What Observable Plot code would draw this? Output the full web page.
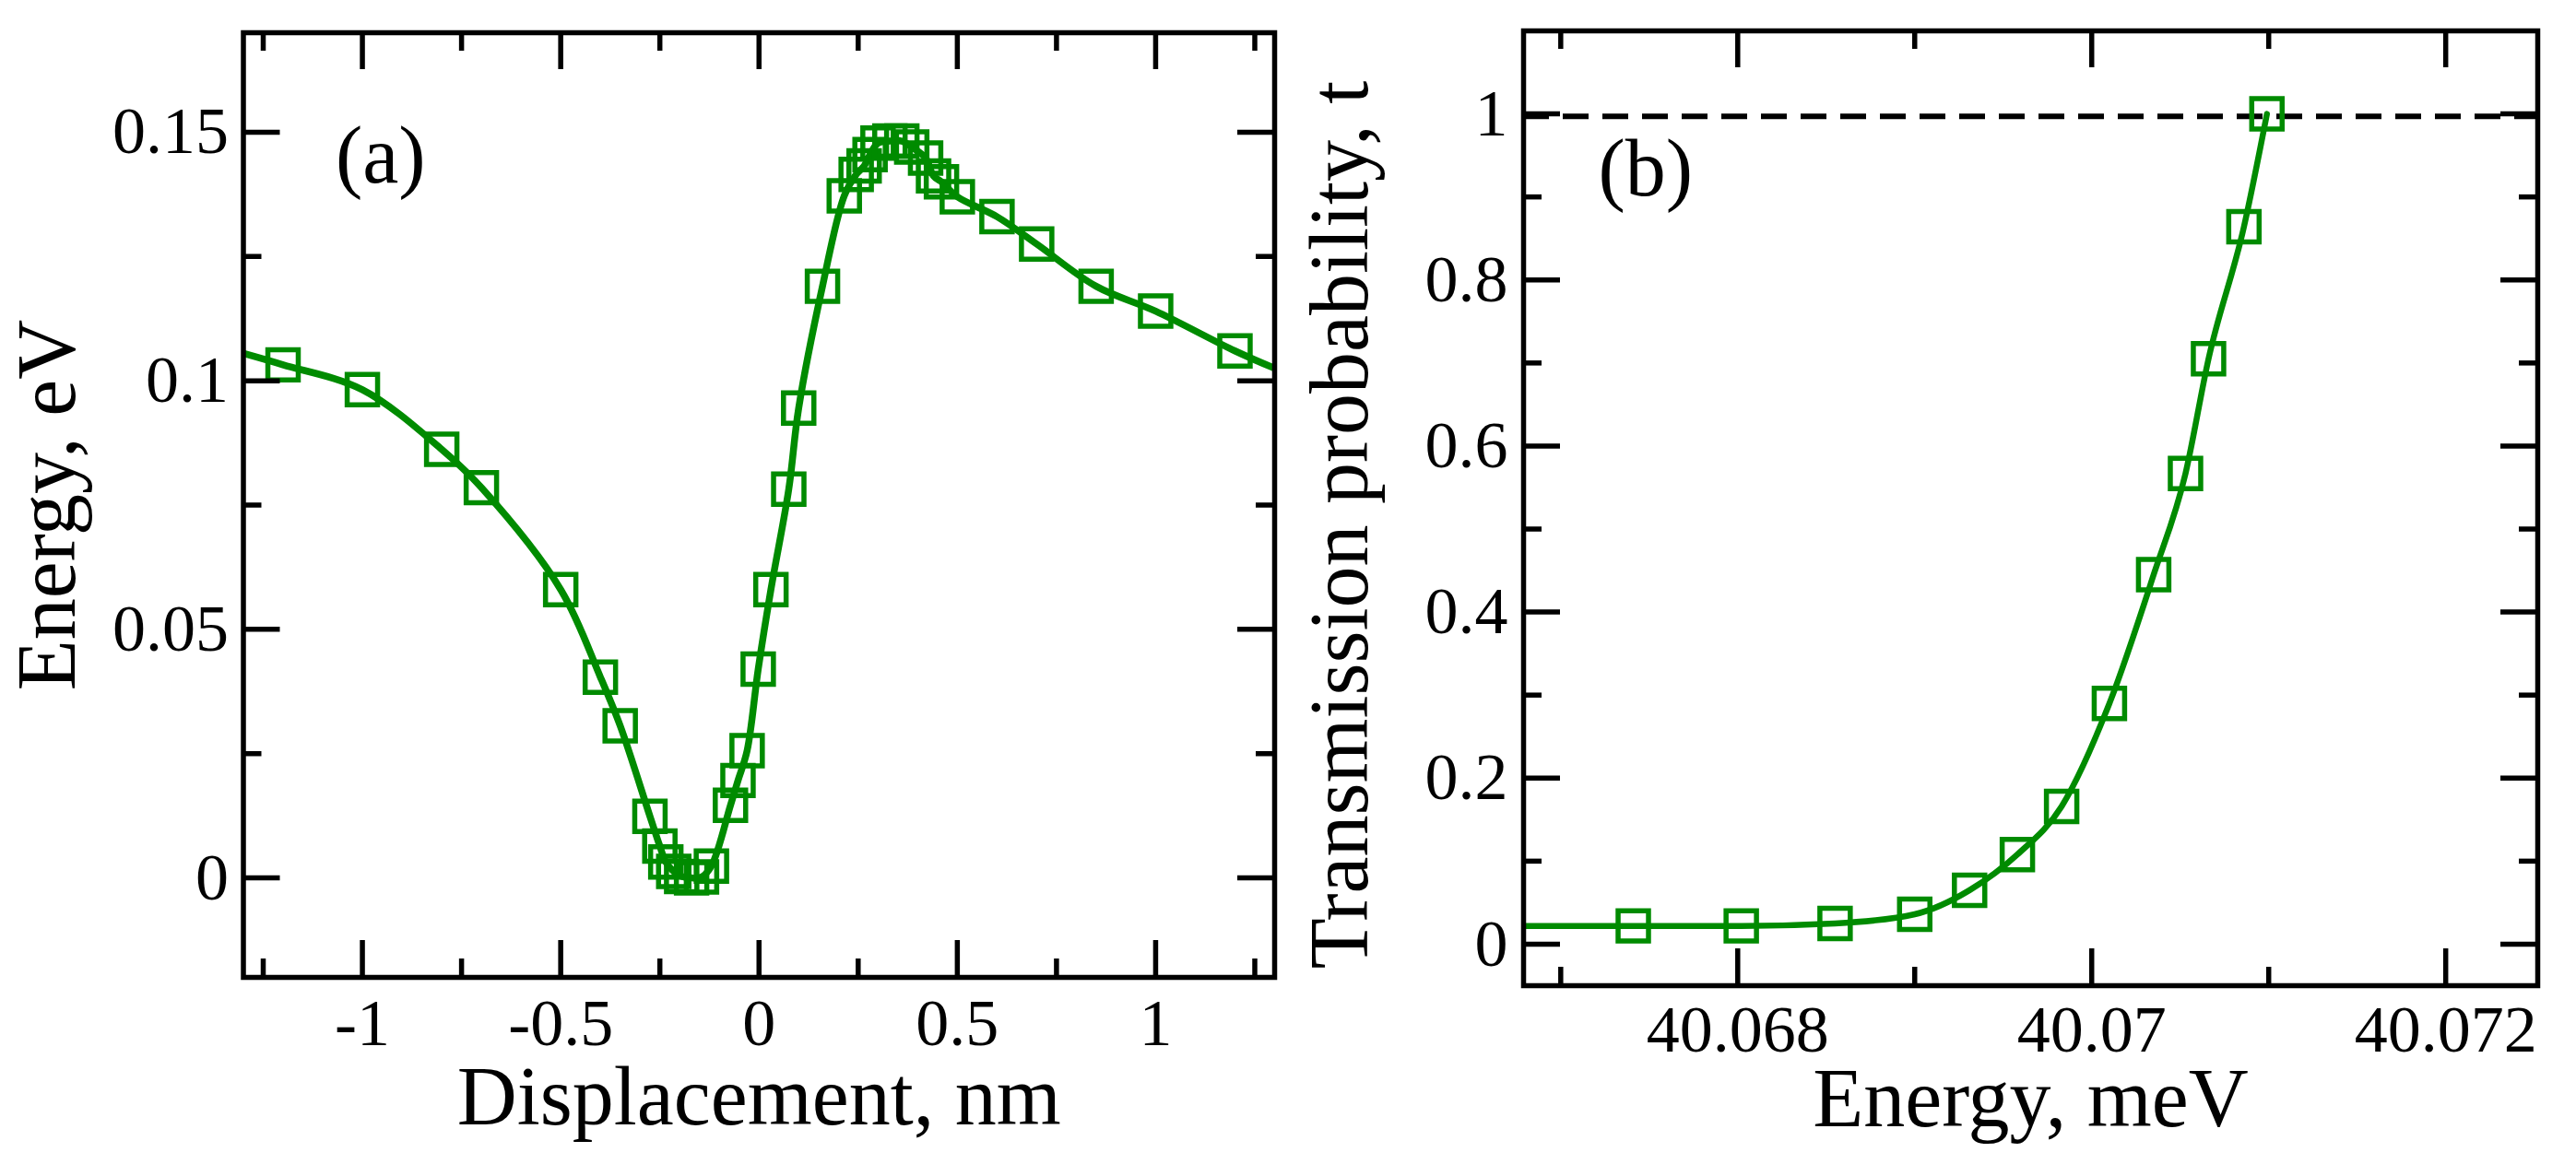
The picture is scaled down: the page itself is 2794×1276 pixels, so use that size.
<!DOCTYPE html>
<html>
<head>
<meta charset="utf-8">
<script src="https://cdn.jsdelivr.net/npm/d3@7"></script>
<script src="https://cdn.jsdelivr.net/npm/@observablehq/plot@0.6"></script>
<style>
  html, body { margin: 0; padding: 0; background: #fff; }
  #wrap { position: relative; width: 2794px; height: 1276px; overflow: hidden; background: #fff; }
  #pa { position: absolute; left: 0; top: 0; }
  #pb { position: absolute; left: 1400px; top: 0; }
  svg { overflow: visible; }
</style>
</head>
<body>
<div id="wrap"><div id="pa"></div><div id="pb"></div></div>
<script>
// ---------- Panel (a): energy vs displacement ----------
const aDisplacement = [-1.2, -1.0, -0.8, -0.7, -0.5, -0.4, -0.35, -0.275, -0.25, -0.235, -0.215, -0.195, -0.17, -0.145, -0.12,
  -0.072, -0.053, -0.03, -0.002, 0.03, 0.075, 0.10, 0.16, 0.215, 0.245, 0.265, 0.28, 0.30, 0.33, 0.36, 0.385, 0.42, 0.44, 0.46,
  0.50, 0.60, 0.70, 0.85, 1.00, 1.20];
const aEnergy = [0.1032, 0.0982, 0.0862, 0.0785, 0.0580, 0.0404, 0.0306, 0.0124, 0.0064, 0.0032, 0.0013, 0.0003, 0.0000, 0.0002, 0.0024,
  0.0146, 0.0196, 0.0256, 0.0420, 0.0580, 0.0782, 0.0945, 0.1190, 0.1372, 0.1415, 0.1432, 0.1455, 0.1478, 0.1482, 0.1482, 0.1470, 0.1448, 0.1412, 0.1400,
  0.1370, 0.1330, 0.1275, 0.1190, 0.1140, 0.1060];
const aCurveEndDisplacement = [-1.3, 1.3];
const aCurveEndEnergy = [0.1055, 0.1025];
const aXTicks = [-1, -0.5, 0, 0.5, 1];
const aXTickLabels = ["-1", "-0.5", "0", "0.5", "1"];
const aXMinorTicks = [-1.25, -0.75, -0.25, 0.25, 0.75, 1.25];
const aYTicks = [0, 0.05, 0.1, 0.15];
const aYTickLabels = ["0", "0.05", "0.1", "0.15"];
const aYMinorTicks = [0.025, 0.075, 0.125];

// ---------- Panel (b): transmission probability vs energy ----------
const bEnergy = [40.06741, 40.06802, 40.06855, 40.06900, 40.06931, 40.06958, 40.06983, 40.07010, 40.07035, 40.07053, 40.07066, 40.07086, 40.07099];
const bTransmission = [0.022, 0.022, 0.025, 0.036, 0.065, 0.108, 0.166, 0.290, 0.445, 0.567, 0.705, 0.864, 1.0];
const bCurveStartEnergy = [40.06678];
const bCurveStartTransmission = [0.022];
const bReferenceLevel = [0.997];
const bXTicks = [40.068, 40.07, 40.072];
const bXTickLabels = ["40.068", "40.07", "40.072"];
const bXMinorTicks = [40.067, 40.069, 40.071];
const bYTicks = [0, 0.2, 0.4, 0.6, 0.8, 1];
const bYTickLabels = ["0", "0.2", "0.4", "0.6", "0.8", "1"];
const bYMinorTicks = [0.1, 0.3, 0.5, 0.7, 0.9];

const GREEN = "rgb(0,139,0)";
const FONT = "'Liberation Serif', 'Times New Roman', Times, serif";

function labelMap(ticks, labels) {
  const m = new Map(ticks.map((t, i) => [t, labels[i]]));
  return d => m.get(d);
}

function panel(o) {
  const iw = o.width - o.mL - o.mR, ih = o.height - o.mT - o.mB;
  const MAJ = 40, MIN = 20, TW = 5.5;
  const tk = {stroke: "#000", strokeWidth: TW};
  const pts = o.xs.map((x, i) => ({x, y: o.ys[i]}));
  const curve = pts.concat(o.endX.map((x, i) => ({x, y: o.endY[i]}))).sort((a, b) => a.x - b.x);
  return Plot.plot({
    width: o.width, height: o.height,
    marginLeft: o.mL, marginRight: o.mR, marginTop: o.mT, marginBottom: o.mB,
    style: {fontFamily: FONT, fontSize: "72px", color: "#000", background: "transparent"},
    x: {domain: o.xDomain},
    y: {domain: o.yDomain},
    marks: [
      ...(o.extra || []),
      Plot.line(curve, {x: "x", y: "y", stroke: GREEN, strokeWidth: o.lineWidth, curve: o.curve, clip: true}),
      Plot.dot(pts, {x: "x", y: "y", symbol: "square", r: 18.6, stroke: GREEN, strokeWidth: 5.5, fill: "none"}),
      // inward ticks on all four sides
      Plot.tickX(o.xT, {x: d => d, insetTop: ih - MAJ, ...tk}),
      Plot.tickX(o.xT, {x: d => d, insetBottom: ih - MAJ, ...tk}),
      Plot.tickX(o.xMin, {x: d => d, insetTop: ih - MIN, ...tk}),
      Plot.tickX(o.xMin, {x: d => d, insetBottom: ih - MIN, ...tk}),
      Plot.tickY(o.yT, {y: d => d, insetRight: iw - MAJ, ...tk}),
      Plot.tickY(o.yT, {y: d => d, insetLeft: iw - MAJ, ...tk}),
      Plot.tickY(o.yMin, {y: d => d, insetRight: iw - MIN, ...tk}),
      Plot.tickY(o.yMin, {y: d => d, insetLeft: iw - MIN, ...tk}),
      Plot.frame({stroke: "#000", strokeWidth: TW}),
      Plot.axisX(o.xT, {anchor: "bottom", tickSize: 0, tickPadding: o.xPad, tickFormat: labelMap(o.xT, o.xTL), label: null, fontSize: 72}),
      Plot.axisY(o.yT, {anchor: "left", tickSize: 0, tickPadding: o.yPad, tickFormat: labelMap(o.yT, o.yTL), label: null, fontSize: 72}),
      Plot.text([o.xLabel], {text: d => d, frameAnchor: "bottom", dy: o.xLabelDy, textAnchor: "middle", lineAnchor: "bottom", fontSize: 90}),
      Plot.text([o.yLabel], {text: d => d, frameAnchor: "left", dx: o.yLabelDx, dy: o.yLabelDy, rotate: -90, textAnchor: "middle", lineAnchor: "bottom", fontSize: 90}),
      Plot.text([o.tag], {text: d => d, frameAnchor: "top-left", dx: o.tagDx, dy: o.tagDy, textAnchor: "start", lineAnchor: "bottom", fontSize: 88})
    ]
  });
}

document.getElementById("pa").appendChild(panel({
  width: 1400, height: 1276, mL: 263.5, mR: 18, mT: 35, mB: 216,
  xDomain: [-1.3, 1.3], yDomain: [-0.02, 0.17],
  xs: aDisplacement, ys: aEnergy, endX: aCurveEndDisplacement, endY: aCurveEndEnergy,
  curve: "catmull-rom", lineWidth: 7.5,
  xT: aXTicks, xTL: aXTickLabels, xMin: aXMinorTicks,
  yT: aYTicks, yTL: aYTickLabels, yMin: aYMinorTicks,
  xPad: 22, yPad: 16,
  xLabel: "Displacement, nm", xLabelDy: 159,
  yLabel: "Energy, eV", yLabelDx: -183.5, yLabelDy: 0,
  tag: "(a)", tagDx: 100, tagDy: 162.5
}));

document.getElementById("pb").appendChild(panel({
  width: 1394, height: 1276, mL: 252, mR: 42, mT: 33, mB: 207,
  xDomain: [40.06679, 40.07252], yDomain: [-0.05, 1.1],
  xs: bEnergy, ys: bTransmission, endX: bCurveStartEnergy, endY: bCurveStartTransmission,
  curve: "monotone-x", lineWidth: 6.5,
  xT: bXTicks, xTL: bXTickLabels, xMin: bXMinorTicks,
  yT: bYTicks, yTL: bYTickLabels, yMin: bYMinorTicks,
  xPad: 20, yPad: 17,
  xLabel: "Energy, meV", xLabelDy: 152,
  yLabel: "Transmission probability, t", yLabelDx: -170, yLabelDy: 18,
  tag: "(b)", tagDx: 81, tagDy: 178.5,
  extra: [Plot.ruleY(bReferenceLevel, {y: d => d, stroke: "#000", strokeWidth: 6, strokeDasharray: "28,15"})]
}));
</script>
</body>
</html>
